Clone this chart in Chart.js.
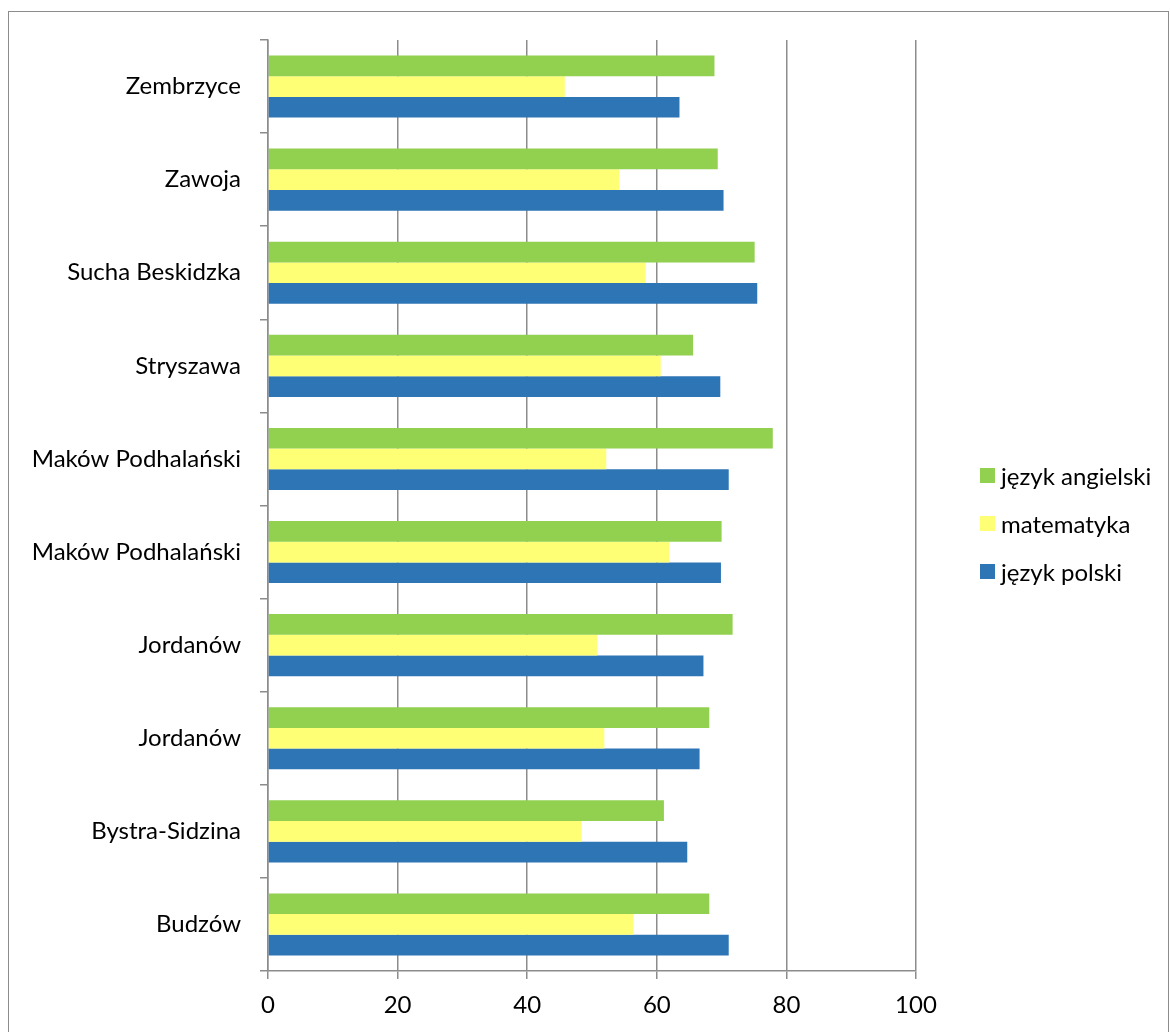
<!DOCTYPE html>
<html lang="pl">
<head>
<meta charset="utf-8">
<script src="https://cdn.jsdelivr.net/npm/chart.js@4/dist/chart.umd.min.js"></script>
<style>
    html, body { margin: 0; padding: 0; background: #fff; overflow: hidden; }
    #frame {
        position: absolute; left: 8px; top: 11px;
        width: 1159px; height: 1040px;
        border: 1px solid #8c8c8c;
    }
    #chart { position: absolute; left: 0; top: 0; }
    #legend {
        position: absolute; left: 971px; top: 439px;
        font-family: Lato, 'Open Sans', sans-serif; font-size: 24px; color: #000;
    }
    #legend .item { display: flex; align-items: center; height: 48px; }
    #legend .box { width: 15px; height: 15px; margin-right: 6px; }
</style>
</head>
<body>
<div id="frame">
    <canvas id="chart" width="1159" height="1020"></canvas>
    <div id="legend"></div>
</div>
<script>
// Catégories (de haut en bas)
const categories = [
    'Zembrzyce', 'Zawoja', 'Sucha Beskidzka', 'Stryszawa',
    'Maków Podhalański', 'Maków Podhalański', 'Jordanów', 'Jordanów',
    'Bystra-Sidzina', 'Budzów'
];

// Séries (mêmes index que categories)
const angielski = [68.9, 69.4, 75.1, 65.6, 77.9, 70.0, 71.7, 68.1, 61.1, 68.1];
const matematyka = [45.8, 54.2, 58.3, 60.6, 52.2, 61.9, 50.8, 51.9, 48.4, 56.4];
const polski = [63.5, 70.3, 75.5, 69.8, 71.1, 69.9, 67.2, 66.6, 64.7, 71.1];

const seriesNames = ['język angielski', 'matematyka', 'język polski'];
const xTicks = [0, 20, 40, 60, 80, 100];

const colors = {
    green: '#92D050',
    yellow: '#FFFF75',
    blue: '#2E75B6',
    axis: '#8c8c8c'
};

const font = { family: "Lato, 'Open Sans', sans-serif", size: 24 };

// Légende HTML construite depuis les datasets
const htmlLegend = {
    id: 'htmlLegend',
    afterUpdate(chart) {
        const el = document.getElementById('legend');
        el.innerHTML = '';
        chart.data.datasets.forEach(ds => {
            const item = document.createElement('div');
            item.className = 'item';
            const box = document.createElement('span');
            box.className = 'box';
            box.style.background = ds.backgroundColor;
            const txt = document.createElement('span');
            txt.textContent = ds.label;
            item.appendChild(box);
            item.appendChild(txt);
            el.appendChild(item);
        });
    }
};

const ctx = document.getElementById('chart').getContext('2d');
new Chart(ctx, {
    type: 'bar',
    data: {
        labels: categories,
        datasets: [
            { label: seriesNames[0], data: angielski, backgroundColor: colors.green },
            { label: seriesNames[1], data: matematyka, backgroundColor: colors.yellow },
            { label: seriesNames[2], data: polski, backgroundColor: colors.blue }
        ]
    },
    options: {
        indexAxis: 'y',
        responsive: false,
        animation: false,
        categoryPercentage: 0.667,
        barPercentage: 1,
        layout: { padding: { top: 28, right: 252, left: 0, bottom: 0 } },
        plugins: {
            legend: { display: false },
            tooltip: { enabled: false }
        },
        scales: {
            x: {
                min: 0,
                max: 100,
                afterBuildTicks: scale => { scale.ticks = xTicks.map(v => ({ value: v })); },
                afterFit: scale => { scale.height = 61; },
                grid: { color: colors.axis, lineWidth: 1.5, tickLength: 8 },
                border: { color: colors.axis, width: 1.5 },
                ticks: { color: '#000', font: font, padding: 12 }
            },
            y: {
                afterFit: scale => {
                    scale.width = 259;
                    scale.paddingTop = 0;
                    scale.paddingBottom = 0;
                },
                grid: { drawOnChartArea: false, color: colors.axis, lineWidth: 1.5, tickLength: 8 },
                border: { color: colors.axis, width: 1.5 },
                ticks: { color: '#000', font: font, padding: 19 }
            }
        }
    },
    plugins: [htmlLegend]
});
</script>
</body>
</html>
